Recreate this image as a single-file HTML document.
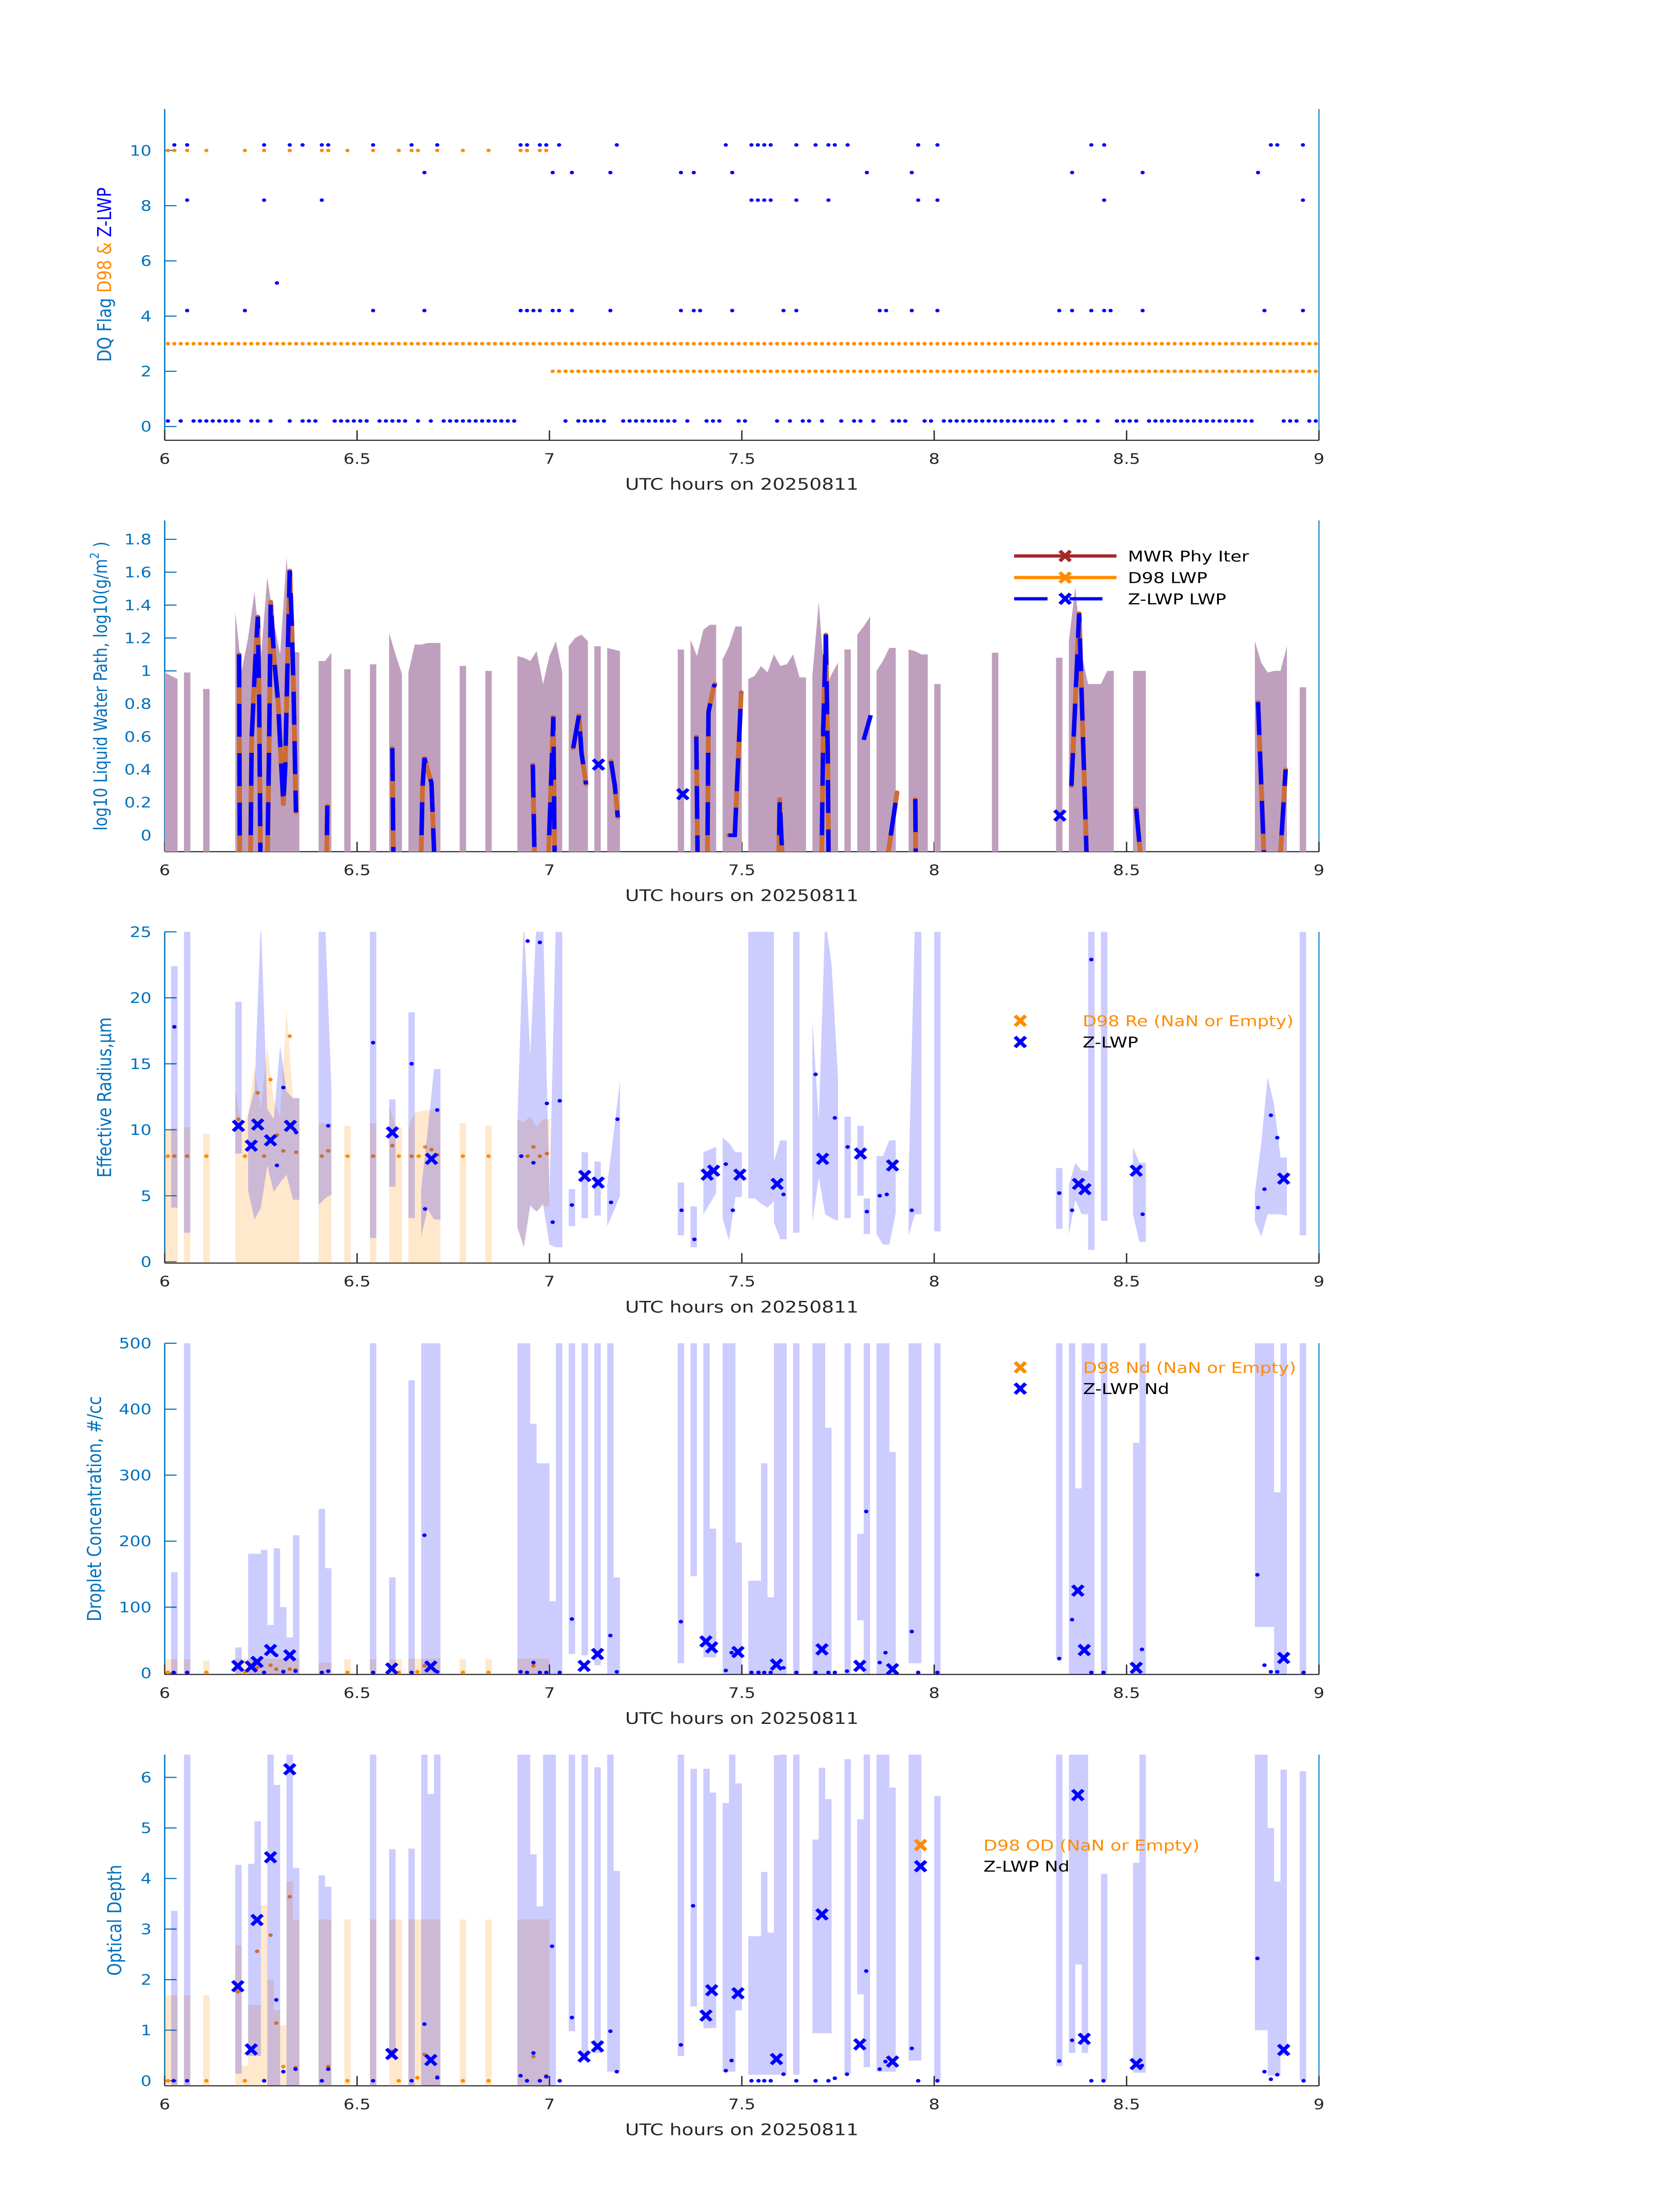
<!DOCTYPE html>
<html><head><meta charset="utf-8"><title>Cloud retrieval panels 20250811</title>
<style>html,body{margin:0;padding:0;background:#fff;width:100%;height:100%;overflow:hidden;}svg{display:block;position:absolute;left:0;top:0;width:100%;height:100%;}text{font-family:"DejaVu Sans","Liberation Sans",sans-serif;}</style>
</head><body>
<svg id="chart" xmlns="http://www.w3.org/2000/svg" viewBox="0 0 3825 6000" preserveAspectRatio="none">
<rect x="0" y="0" width="3825" height="6000" fill="#ffffff"/>
<defs>
<clipPath id="clip0"><rect x="375" y="298" width="2628" height="905"/></clipPath>
<clipPath id="clip1"><rect x="375" y="1422" width="2628" height="905"/></clipPath>
<clipPath id="clip2"><rect x="375" y="2546" width="2628" height="905"/></clipPath>
<clipPath id="clip3"><rect x="375" y="3670" width="2628" height="905"/></clipPath>
<clipPath id="clip4"><rect x="375" y="4794" width="2628" height="905"/></clipPath>
</defs>
</svg>
<script>
// ---------- x axis (minutes after 06:00 UTC) ----------
const xTickMinutes = [0, 30, 60, 90, 120, 150, 180];
const xTickLabels = ["6", "6.5", "7", "7.5", "8", "8.5", "9"];

// ---------- Panel 1: DQ flags (minute indices) ----------
const zlwpFlag0 = [0,2,4,5,6,7,8,9,10,11,13,14,16,19,21,22,23,26,27,28,29,30,31,33,34,35,36,37,39,41,43,44,45,46,47,48,49,50,51,52,53,54,62,64,65,66,67,68,71,72,73,74,75,76,77,78,79,81,84,85,86,89,90,95,97,99,100,102,105,107,108,110,113,114,115,118,119,121,122,123,124,125,126,127,128,129,130,131,132,133,134,135,136,137,138,140,142,143,145,148,149,150,151,153,154,155,156,157,158,159,160,161,162,163,164,165,166,167,168,169,174,175,176,178,179];
const zlwpFlag4 = [3,12,32,40,55,56,57,58,60,61,63,69,80,82,83,88,96,98,111,112,116,120,139,141,144,146,147,152,171,177];
const zlwpFlag5 = [17];
const zlwpFlag8 = [3,15,24,91,92,93,94,98,103,117,120,146,177];
const zlwpFlag9 = [40,60,63,69,80,82,88,109,116,141,152,170];
const zlwpFlag10 = [1,3,15,19,21,24,25,32,38,42,55,56,58,59,61,70,87,91,92,93,94,98,101,103,104,106,117,120,144,146,172,173,177];
const d98Flag10 = [0,1,3,6,12,15,19,24,25,28,32,36,38,39,42,46,50,55,56,58,59];
const d98Flag3Range = [0, 179];
const d98Flag2Range = [60, 179];

// ---------- Panel 2: LWP ----------
const lwpBandStart = [0,3,6,11,24,28,32,35,38,46,50,55,63,67,69,80,82,87,91,101,106,108,111,116,120,129,139,141,151,170,177];
const lwpBandHi = [[0.99,0.97,0.95],[0.99,0.99],[0.89,0.89],[1.36,1.0,1.2,1.48,1.08,1.57,1.3,1.1,1.69,1.12,1.11],[1.06,1.06,1.11],[1.01,1.01],[1.04,1.04],[1.23,1.1,0.98],[0.99,1.16,1.16,1.17,1.17,1.17],[1.03,1.03],[1.0,1.0],[1.09,1.08,1.06,1.12,0.92,1.09,1.18,0.99],[1.15,1.2,1.22,1.18],[1.15,1.15],[1.14,1.13,1.12],[1.13,1.13],[1.19,1.09,1.25,1.28,1.28],[1.07,1.15,1.27,1.27],[0.95,0.97,1.03,0.99,1.1,1.03,1.04,1.1,0.96,0.96],[0.97,1.42,0.89,0.98,1.05],[1.13,1.13],[1.22,1.27,1.33],[1.0,1.06,1.14,1.14],[1.13,1.12,1.1,1.1],[0.92,0.92],[1.11,1.11],[1.08,1.08],[1.18,1.51,1.1,0.92,0.92,0.92,1.0,1.0],[1.0,1.0,1.0],[1.18,1.05,0.99,1.0,1.0,1.15],[0.9,0.9]];
const lwpBandLo = -0.3;
const lwpSegT = [[11.6,11.72],[13.34,13.56,14.1,14.52,14.74,14.96],[15.96,16.3,16.53,17.05,17.7,18.06,18.5,18.8,19.1,19.5,19.8,20.1,20.47],[25.2,25.36],[35.5,35.7],[39.9,40.2,40.5,41.2,41.6,42.2],[57.4,57.75],[59.7,60.6,60.85],[63.7,64.6,65.0,65.7],[69.6,70.2,70.65],[82.9,83.15],[84.6,84.8,85.6,85.8],[87.9,88.9,89.9],[95.7,95.9,96.5],[102.4,102.7,103.1,103.4,103.55],[109.0,110.1],[112.1,114.2],[117.05,117.15],[141.4,142.25,142.6,143.1,143.9],[151.5,152.6],[170.5,171.6],[173.7,174.8]];
const lwpSegV = [[1.1,-0.3],[-0.3,0.59,1.04,1.33,0.79,-0.3],[-0.3,0.6,1.42,1.08,0.8,0.51,0.19,0.42,0.96,1.61,1.3,0.87,0.14],[-0.3,0.18],[0.53,-0.3],[-0.3,0.29,0.47,0.37,0.32,-0.3],[0.43,-0.3],[-0.3,0.72,-0.3],[0.53,0.73,0.5,0.31],[0.45,0.3,0.11],[0.6,-0.3],[-0.3,0.75,0.9,0.92],[0.0,0.0,0.87],[-0.3,0.22,-0.3],[-0.3,0.65,1.22,0.5,-0.3],[0.58,0.73],[-0.3,0.26],[0.22,-0.3],[0.3,1.03,1.35,0.72,-0.3],[0.16,-0.3],[0.81,-0.3],[-0.3,0.4]];
const lwpSegHasD98 = [true,true,true,true,true,true,true,true,true,true,true,true,true,true,true,false,true,true,true,true,true,true];
const lwpXT = [67.65, 80.8, 139.6];
const lwpXV = [0.43, 0.25, 0.12];

// ---------- Panel 3: effective radius ----------
const reBlueStart = [1,3,11,13,24,32,35,38,40,55,63,65,67,69,80,82,84,87,91,95,98,101,106,108,109,111,116,120,139,141,144,146,151,170,177];
const reBlueLo = [[4.1,4.1],[2.2,2.2],[8.2,8.2],[5.4,3.2,4.1,7.3,5.3,6.0,6.6,4.7,4.7],[4.3,4.8,5.1],[1.8,1.8],[5.7,5.7],[3.3,3.3],[1.9,4.0,3.2,3.2],[2.6,1.1,4.2,3.8,4.4,1.3,1.1,1.1],[2.7,2.7],[3.3,3.3],[3.5,3.5],[2.7,3.8,5.0],[2.0,2.0],[1.1,1.1],[3.6,4.4,5.2],[3.3,1.6,4.9,4.9],[4.8,4.8,4.4,4.1,4.6],[3.0,1.7,1.7],[2.2,2.2],[3.0,6.4,3.6,3.3,3.1],[3.3,3.3],[5.0,5.0],[2.1,2.1],[2.1,1.3,1.3,3.7],[2.0,3.6,3.6],[2.3,2.3],[2.5,2.5],[2.0,4.7,3.6,3.6],[0.9,0.9],[3.1,3.1],[3.6,1.5,1.5],[3.1,1.9,3.6,3.6,3.6,3.5],[2.0,2.0]];
const reBlueHi = [[22.4,22.4],[26,26],[19.7,19.7],[11.1,13,26,11.6,10.8,16.4,12.9,12.4,12.4],[26,26,13],[26,26],[12.3,12.3],[18.9,18.9],[5.5,9.9,14.6,14.6],[10.6,26,15.6,26,26,4.9,26,26],[5.5,5.5],[8.3,8.3],[7.6,7.6],[5.8,9.7,13.7],[6.0,6.0],[4.2,4.2],[8.3,8.5,8.7],[9.4,9.0,8.3,8.3],[26,26,26,26,26],[7.6,9.2,9.2],[26,26],[18.3,10.7,26,22.5,13.9],[11.0,11.0],[10.3,10.3],[4.8,4.8],[8.0,8.0,9.2,9.2],[6.2,26,26],[26,26],[7.1,7.1],[5.8,7.5,6.9,6.9],[26,26],[26,26],[8.7,7.5,7.5],[5.2,9.0,14.0,11.9,7.9,7.9],[26,26]];
const reOrangeStart = [0,3,6,11,24,28,32,35,38,46,50,55];
const reOrangeLo = [[-1,-1,-1],[-1,-1],[-1,-1],[-1,-1,-1,-1,-1,-1,-1,-1,-1,-1,-1],[-1,-1,-1],[-1,-1],[-1,-1],[-1,-1,-1],[-1,-1,-1,-1,-1,-1],[-1,-1],[-1,-1],[2.6,1.1,4.4,3.8,4.2,4.2]];
const reOrangeHi = [[10.1,10.1,10.1],[10.2,10.2],[9.7,9.7],[13.1,10.1,11.2,14.8,11.6,16.3,12.2,11.0,19.1,12.4,12.4],[10.5,10.5,10.5],[10.3,10.3],[10.5,10.5],[11.8,10.2,10.2],[10.2,11.3,11.4,11.5,11.5,11.5],[10.5,10.5],[10.3,10.3],[10.8,10.6,11,10.2,10.8,10.8]];
const reXT = [11.5,13.5,14.5,16.5,19.6,35.5,41.6,65.5,67.6,84.6,85.6,89.7,95.5,102.6,108.5,113.5,142.5,143.5,151.5,174.5];
const reXV = [10.3,8.8,10.4,9.2,10.3,9.8,7.8,6.5,6.0,6.6,6.9,6.6,5.9,7.8,8.2,7.3,5.9,5.5,6.9,6.3];
const reDotT = [1.5,17.5,18.5,20.5,25.5,32.5,38.5,40.6,42.5,55.6,56.6,57.5,58.5,59.6,60.5,61.6,63.5,69.6,70.6,80.6,82.6,87.5,88.6,96.5,101.5,104.5,106.5,109.5,111.5,112.6,116.5,139.5,141.5,144.5,152.5,170.5,171.5,172.5,173.5];
const reDotV = [17.8,7.3,13.2,9.8,10.3,16.6,15.0,4.0,11.5,8.0,24.3,7.5,24.2,12.0,3.0,12.2,4.3,4.5,10.8,3.9,1.7,7.4,3.9,5.1,14.2,10.9,8.7,3.8,5.0,5.1,3.9,5.2,3.9,22.9,3.6,4.1,5.5,11.1,9.4];
const reD98T = [0.5,1.5,3.5,6.5,12.5,15.5,24.5,28.5,32.5,36.5,38.5,39.6,46.5,50.5,55.6,56.6,58.5,11.5,14.5,16.5,17.5,18.5,19.5,20.5,25.5,35.5,40.6,41.6,42.5,57.5,59.6];
const reD98V = [8,8,8,8,8,8,8,8,8,8,8,8,8,8,8,8,8,10.8,12.8,13.8,9.6,8.4,17.1,8.3,8.4,8.8,8.7,8.5,8.1,8.7,8.2];

// ---------- Panel 4: droplet concentration (rect bands: start, end, lo, hi) ----------
const ndBlueStart = [1,3,11,13,15,16,17,18,19,20,24,25,32,35,38,40,55,57,58,60,61,63,65,67,69,70,80,82,84,85,87,89,91,93,94,95,98,101,103,106,108,109,111,113,116,120,139,141,142,143,146,151,152,170,173,174,177];
const ndBlueEnd = [2,4,12,15,16,17,18,19,20,21,25,26,33,36,39,43,57,58,60,61,62,64,66,68,70,71,81,83,85,86,89,90,93,94,95,97,99,103,104,107,109,110,113,114,118,121,140,142,143,145,147,152,153,173,174,175,178];
const ndBlueLo = [-5,-5,-5,-5,-5,-5,-5,-5,-5,-5,-5,-5,-5,-5,-5,-5,-5,-5,-5,-5,-5,29,27,12,-5,-5,15,147,24,24,-5,-5,-5,-5,-5,-5,-5,-5,-5,-5,80,-5,-5,-5,15,-5,22,-5,-5,-5,-5,-5,-5,70,-5,-5,-5];
const ndBlueHi = [153,520,39,181,187,73,189,100,54,209,249,159,520,145,444,520,520,378,318,109,520,520,520,520,520,145,520,520,520,219,520,198,140,318,115,520,520,520,372,520,211,520,520,335,520,520,520,520,280,520,520,349,520,520,274,520,520];
const ndOrangeStart = [0,3,6,11,24,28,32,35,38,46,50,55];
const ndOrangeEnd = [2,4,7,21,26,29,33,37,43,47,51,60];
const ndOrangeHi = [21,21,19,22,16,21,21,21,22,21,21,22];
const ndXT = [11.4,13.5,14.4,16.5,19.5,35.4,41.5,65.4,67.5,84.4,85.3,89.4,95.4,102.5,108.4,113.5,142.4,143.4,151.5,174.5];
const ndXV = [11,10,17,35,27,7,10,11,29,48,39,32,13,36,11,6,125,35,8,23];
const ndDotT = [1.4,3.5,15.5,17.4,18.5,20.4,24.5,25.5,32.5,38.5,40.5,42.5,55.5,56.5,57.5,58.5,59.5,61.6,63.5,69.5,70.5,80.5,87.5,88.4,91.5,92.6,93.5,94.5,96.5,98.5,101.5,103.5,104.5,106.4,109.4,111.5,112.4,116.5,117.5,120.5,139.5,141.5,144.5,146.4,152.4,170.4,171.5,172.5,173.5,177.6];
const ndDotV = [1,1,1,27,2,3,1,3,1,1,209,2,2,1,16,1,1,1,82,57,2,78,4,31,1,1,1,1,8,1,1,1,1,3,245,16,31,63,1,1,22,81,1,1,36,149,12,2,2,1];
const ndD98T = [0.5,6.5,12.5,14.4,16.5,17.4,18.5,19.5,20.4,25.5,28.5,35.4,36.5,39.4,40.5,42.5,46.5,50.5,57.5,59.5];
const ndD98V = [1,1,1,8,12,6,3,6,5,3,1,7,1,2,11,2,1,1,11,1];

// ---------- Panel 5: optical depth (rect bands) ----------
const odBlueStart = [1,3,11,13,14,16,17,19,20,24,25,32,35,38,40,41,42,55,57,58,59,63,65,67,69,70,80,82,84,85,87,88,89,91,93,94,95,96,98,101,102,103,106,108,109,111,113,116,120,139,141,142,143,146,151,152,170,172,173,174,177];
const odBlueEnd = [2,4,12,14,15,17,18,20,21,25,26,33,36,39,41,42,43,57,58,59,61,64,66,68,70,71,81,83,85,86,88,89,90,93,94,95,96,97,99,102,103,104,107,109,110,113,114,118,121,140,142,143,144,147,152,153,172,173,174,175,178];
const odBlueLo = [-0.2,-0.2,0.14,0.49,0.49,-0.2,-0.2,-0.2,-0.2,-0.2,-0.2,-0.2,0.44,-0.2,-0.2,-0.2,-0.2,-0.2,-0.2,-0.2,-0.2,0.98,0.4,0.55,0.18,0.18,0.49,1.47,1.04,1.04,0.18,0.18,1.39,0.12,0.12,0.12,0.12,0.12,0.12,0.94,0.94,0.94,0.14,1.71,0.27,0.18,0.18,0.4,0.01,0.29,0.55,2.3,0.55,0.01,0.16,0.16,1.0,0.1,0.1,0.5,0.01];
const odBlueHi = [3.36,6.6,4.27,4.29,5.13,6.6,5.85,6.6,4.21,4.06,3.84,6.6,4.58,4.59,6.6,5.67,6.6,6.6,4.48,3.45,6.6,6.6,6.6,6.2,6.6,4.15,6.6,6.17,6.17,5.7,5.49,6.6,5.88,2.86,4.13,2.93,6.44,6.6,6.6,4.77,6.19,5.57,6.36,5.17,6.6,6.6,5.8,6.6,5.63,6.6,6.6,6.6,6.6,4.09,4.31,6.6,6.6,5.0,3.94,6.15,6.12];
const odOrangeStart = [0,3,6,11,12,13,15,16,17,18,19,20,24,28,32,35,38,46,50,55];
const odOrangeEnd = [2,4,7,12,13,15,16,17,18,19,20,21,26,29,33,37,43,47,51,60];
const odOrangeHi = [1.69,1.69,1.69,2.68,0.3,1.5,3.47,2.0,1.4,1.1,3.94,3.19,3.19,3.19,3.19,3.19,3.19,3.19,3.19,3.19];
const odXT = [11.4,13.5,14.4,16.5,19.5,35.4,41.5,65.4,67.5,84.4,85.3,89.4,95.4,102.5,108.4,113.5,142.4,143.4,151.5,174.5];
const odXV = [1.87,0.62,3.18,4.42,6.16,0.53,0.41,0.48,0.68,1.29,1.79,1.73,0.43,3.29,0.72,0.38,5.65,0.83,0.33,0.61];
const odDotT = [1.4,3.5,15.5,17.4,18.5,20.4,24.5,25.5,32.5,38.5,40.5,42.5,55.5,56.5,57.5,58.5,59.5,60.4,61.6,63.5,69.5,70.5,80.5,82.4,87.5,88.4,91.5,92.6,93.5,94.5,96.5,98.5,101.5,103.5,104.5,106.4,109.4,111.5,112.4,116.5,117.5,120.5,139.5,141.5,144.5,146.4,152.4,170.4,171.5,172.5,173.5,177.6];
const odDotV = [0,0,0,1.6,0.18,0.23,0,0.23,0,0,1.12,0.06,0.1,0,0.55,0,0.08,2.66,0,1.25,0.98,0.18,0.71,3.46,0.2,0.4,0,0,0,0,0.13,0,0,0,0.05,0.13,2.17,0.23,0.38,0.64,0,0,0.39,0.8,0,0,0.3,2.42,0.18,0.03,0.12,0];
const odD98T = [0.5,6.5,11.4,12.5,14.4,16.5,17.4,18.5,19.5,20.4,25.5,28.5,35.4,36.5,39.4,40.5,42.5,46.5,50.5,57.5,59.5];
const odD98V = [0,0,1.76,0,2.56,2.88,1.14,0.28,3.64,0.26,0.28,0,0.58,0,0.06,0.52,0.08,0,0,0.48,0.1];

// ---------- layout ----------
const NS = "http://www.w3.org/2000/svg";
const svg = document.getElementById('chart');
const X0 = 375, X1 = 3003;
const panels = [
  {top:298, bot:1203, ymin:-0.5, ymax:11.5, ticks:[0,2,4,6,8,10], labels:["0","2","4","6","8","10"]},
  {top:1422, bot:2327, ymin:-0.1, ymax:1.915, ticks:[0,0.2,0.4,0.6,0.8,1,1.2,1.4,1.6,1.8], labels:["0","0.2","0.4","0.6","0.8","1","1.2","1.4","1.6","1.8"]},
  {top:2546, bot:3451, ymin:-0.1, ymax:25, ticks:[0,5,10,15,20,25], labels:["0","5","10","15","20","25"]},
  {top:3670, bot:4575, ymin:-2, ymax:500, ticks:[0,100,200,300,400,500], labels:["0","100","200","300","400","500"]},
  {top:4794, bot:5699, ymin:-0.1, ymax:6.45, ticks:[0,1,2,3,4,5,6], labels:["0","1","2","3","4","5","6"]}
];
function xs(m){ return X0 + m/180*(X1-X0); }
function ys(p, v){ return p.top + (p.ymax - v)/(p.ymax - p.ymin)*(p.bot - p.top); }
function mk(tag, attrs, parent){ const e = document.createElementNS(NS, tag); for (const k in attrs) e.setAttribute(k, attrs[k]); (parent||svg).appendChild(e); return e; }

// ---------- axes ----------
const yLabelX = [241, 232, 241, 218, 264];
panels.forEach(function(p, i){
  const ax = mk('g', {});
  
  
  const ls = mk('line', {x1:X0, y1:p.top, x2:X0, y2:p.bot, stroke:'#0072BD', 'stroke-width':3}, ax);
  
  
  const rs = mk('line', {x1:X1, y1:p.top, x2:X1, y2:p.bot, stroke:'#2a8fd4', 'stroke-width':3}, ax);
  
  
  const bs = mk('line', {x1:X0, y1:p.bot, x2:X1, y2:p.bot, stroke:'#262626', 'stroke-width':3}, ax);
  
  
  p.ticks.forEach(function(t, j){
    const y = ys(p, t);
    const tk = mk('line', {x1:X0, y1:y, x2:X0+27, y2:y, stroke:'#0072BD', 'stroke-width':3}, ax);
    
    
    const tl = mk('text', {x:345, y:y+14, 'text-anchor':'end', 'font-size':39, fill:'#0072BD'}, ax);
    tl.textContent = p.labels[j];
    
    
  });
  xTickMinutes.forEach(function(m, j){
    const x = xs(m);
    const tk = mk('line', {x1:x, y1:p.bot, x2:x, y2:p.bot-27, stroke:'#262626', 'stroke-width':3}, ax);
    
    
    const tl = mk('text', {x:x, y:p.bot+64, 'text-anchor':'middle', 'font-size':39, fill:'#262626'}, ax);
    tl.textContent = xTickLabels[j];
    
    
  });
  const xl = mk('text', {x:(X0+X1)/2, y:p.bot+135, 'text-anchor':'middle', 'font-size':44, fill:'#262626'}, ax);
  xl.textContent = 'UTC hours on 20250811';
  
  
  const cy = (p.top + p.bot)/2;
  const yl = mk('text', {x:yLabelX[i], y:cy, 'text-anchor':'middle', 'font-size':44, fill:'#0072BD', transform:'rotate(-90 ' + yLabelX[i] + ' ' + cy + ')', 'dominant-baseline':'middle'}, ax);
  
  
  if (i === 0) {
    yl.innerHTML = '<tspan fill="#0072BD">DQ Flag  </tspan><tspan fill="#FF8C00">D98 &amp;  </tspan><tspan fill="#0000FF">Z-LWP</tspan>';
  } else if (i === 1) {
    yl.setAttribute('font-size', 42);
    yl.innerHTML = 'log10 Liquid Water Path, log10(g/m<tspan font-size="28" dy="-16">2</tspan><tspan dy="16"> )</tspan>';
  } else if (i === 2) {
    yl.textContent = 'Effective Radius,\u03bcm';
  } else if (i === 3) {
    yl.textContent = 'Droplet Concentration, #/cc';
  } else {
    yl.textContent = 'Optical Depth';
  }
});

// ---------- helpers for marks ----------
function drawX(g, x, y, color, name){
  const m = mk('path', {d:'M'+(x-12)+' '+(y-14)+'L'+(x+12)+' '+(y+14)+'M'+(x-12)+' '+(y+14)+'L'+(x+12)+' '+(y-14), stroke:color, 'stroke-width':9, fill:'none'}, g);
  
  
  return m;
}
function runPoly(p, start, lo, hi){
  let pts = [];
  for (let k = 0; k < hi.length; k++) pts.push(xs(start+k) + ',' + ys(p, hi[k]));
  for (let k = lo.length-1; k >= 0; k--) pts.push(xs(start+k) + ',' + ys(p, lo[k]));
  return pts.join(' ');
}
function rectPoly(p, s, e, lo, hi){
  return xs(s)+','+ys(p,hi)+' '+xs(e)+','+ys(p,hi)+' '+xs(e)+','+ys(p,lo)+' '+xs(s)+','+ys(p,lo);
}

// ---------- Panel 1 ----------
(function(){
  const p = panels[0];
  const g = mk('g', {'clip-path':'url(#clip0)'});
  
  
  function row(list, val, color, name){
    list.forEach(function(k){
      const c = mk('circle', {cx:xs(k+0.5), cy:ys(p, val), r:4.8, fill:color}, g);
      
      
    });
  }
  const d3 = []; for (let k = d98Flag3Range[0]; k <= d98Flag3Range[1]; k++) d3.push(k);
  const d2 = []; for (let k = d98Flag2Range[0]; k <= d98Flag2Range[1]; k++) d2.push(k);
  row(d3, 3, '#FF8C00', 'd98-flag-dot');
  row(d2, 2, '#FF8C00', 'd98-flag-dot');
  row(d98Flag10, 10, '#FF8C00', 'd98-flag-dot');
  row(zlwpFlag0, 0.2, '#0000FF', 'zlwp-flag-dot');
  row(zlwpFlag4, 4.2, '#0000FF', 'zlwp-flag-dot');
  row(zlwpFlag5, 5.2, '#0000FF', 'zlwp-flag-dot');
  row(zlwpFlag8, 8.2, '#0000FF', 'zlwp-flag-dot');
  row(zlwpFlag9, 9.2, '#0000FF', 'zlwp-flag-dot');
  row(zlwpFlag10, 10.2, '#0000FF', 'zlwp-flag-dot');
})();

// ---------- Panel 2 ----------
(function(){
  const p = panels[1];
  const g = mk('g', {'clip-path':'url(#clip1)'});
  
  
  lwpBandStart.forEach(function(s, i){
    const lo = lwpBandHi[i].map(function(){ return lwpBandLo; });
    const pg = mk('polygon', {points:runPoly(p, s, lo, lwpBandHi[i]), fill:'#C09FBE'}, g);
    
    
  });
  lwpSegT.forEach(function(T, i){
    const pts = T.map(function(t, k){ return xs(t) + ',' + ys(p, lwpSegV[i][k]); }).join(' ');
    if (lwpSegHasD98[i]) {
      const o = mk('polyline', {points:pts, fill:'none', stroke:'#CD6D35', 'stroke-width':11, 'stroke-linejoin':'round', 'stroke-linecap':'round'}, g);
      
      
    }
    const b = mk('polyline', {points:pts, fill:'none', stroke:'#0000FF', 'stroke-width':10, 'stroke-dasharray':'90,45'}, g);
    
    
  });
  lwpXT.forEach(function(t, i){ drawX(g, xs(t), ys(p, lwpXV[i]), '#0000FF', 'zlwp-lwp-marker'); });
  const lg = mk('g', {});
  
  
  const names = ['MWR Phy Iter', 'D98 LWP', 'Z-LWP LWP'];
  const cols = ['#A52A2A', '#FF8C00', '#0000FF'];
  const rows = [1519, 1578, 1636];
  rows.forEach(function(y, i){
    let ln;
    if (i < 2) {
      ln = mk('line', {x1:2309, y1:y, x2:2542, y2:y, stroke:cols[i], 'stroke-width':9}, lg);
    } else {
      ln = mk('path', {d:'M2309 '+y+'L2385 '+y+'M2435 '+y+'L2510 '+y, stroke:cols[i], 'stroke-width':9, fill:'none'}, lg);
    }
    
    
    drawX(lg, 2425, y, cols[i], 'legend-marker');
    const tx = mk('text', {x:2568, y:y+15, 'font-size':41, fill:'#000'}, lg);
    tx.textContent = names[i];
    
    
  });
})();

// ---------- shared drawing for panels 3-5 ----------
function drawDots(g, p, T, V, color, r, name){
  T.forEach(function(t, i){
    const c = mk('circle', {cx:xs(t), cy:ys(p, V[i]), r:r, fill:color}, g);
    
    
  });
}
function drawLegend(x0, tx, y1, label1, label2, name){
  const lg = mk('g', {});
  
  
  drawX(lg, x0, y1, '#FF8C00', 'legend-marker');
  drawX(lg, x0, y1+58, '#0000FF', 'legend-marker');
  const t1 = mk('text', {x:tx, y:y1+15, 'font-size':41, fill:'#FF8C00'}, lg);
  t1.textContent = label1;
  
  
  const t2 = mk('text', {x:tx, y:y1+73, 'font-size':41, fill:'#000'}, lg);
  t2.textContent = label2;
  
  
}

// ---------- Panel 3 ----------
(function(){
  const p = panels[2];
  const g = mk('g', {'clip-path':'url(#clip2)'});
  
  
  reOrangeStart.forEach(function(s, i){
    const pg = mk('polygon', {points:runPoly(p, s, reOrangeLo[i], reOrangeHi[i]), fill:'#FF8C00', 'fill-opacity':0.2}, g);
    
    
  });
  drawDots(g, p, reD98T, reD98V, '#FF8C00', 5, 'd98-re-dot');
  reBlueStart.forEach(function(s, i){
    const pg = mk('polygon', {points:runPoly(p, s, reBlueLo[i], reBlueHi[i]), fill:'#0000FF', 'fill-opacity':0.2}, g);
    
    
  });
  drawDots(g, p, reDotT, reDotV, '#0000FF', 5, 'zlwp-re-dot');
  reXT.forEach(function(t, i){ drawX(g, xs(t), ys(p, reXV[i]), '#0000FF', 'zlwp-re-marker'); });
  drawLegend(2323, 2465, 2789, 'D98 Re (NaN or Empty)', 'Z-LWP', 're-legend');
})();

// ---------- Panel 4 ----------
(function(){
  const p = panels[3];
  const g = mk('g', {'clip-path':'url(#clip3)'});
  
  
  ndOrangeStart.forEach(function(s, i){
    const pg = mk('polygon', {points:rectPoly(p, s, ndOrangeEnd[i], -5, ndOrangeHi[i]), fill:'#FF8C00', 'fill-opacity':0.2}, g);
    
    
  });
  drawDots(g, p, ndD98T, ndD98V, '#FF8C00', 5, 'd98-nd-dot');
  ndBlueStart.forEach(function(s, i){
    const pg = mk('polygon', {points:rectPoly(p, s, ndBlueEnd[i], ndBlueLo[i], ndBlueHi[i]), fill:'#0000FF', 'fill-opacity':0.2}, g);
    
    
  });
  drawDots(g, p, ndDotT, ndDotV, '#0000FF', 5, 'zlwp-nd-dot');
  ndXT.forEach(function(t, i){ drawX(g, xs(t), ys(p, ndXV[i]), '#0000FF', 'zlwp-nd-marker'); });
  drawLegend(2323, 2466, 3736, 'D98 Nd (NaN or Empty)', 'Z-LWP Nd', 'nd-legend');
})();

// ---------- Panel 5 ----------
(function(){
  const p = panels[4];
  const g = mk('g', {'clip-path':'url(#clip4)'});
  
  
  odOrangeStart.forEach(function(s, i){
    const pg = mk('polygon', {points:rectPoly(p, s, odOrangeEnd[i], -0.2, odOrangeHi[i]), fill:'#FF8C00', 'fill-opacity':0.2}, g);
    
    
  });
  drawDots(g, p, odD98T, odD98V, '#FF8C00', 5, 'd98-od-dot');
  odBlueStart.forEach(function(s, i){
    const pg = mk('polygon', {points:rectPoly(p, s, odBlueEnd[i], odBlueLo[i], odBlueHi[i]), fill:'#0000FF', 'fill-opacity':0.2}, g);
    
    
  });
  drawDots(g, p, odDotT, odDotV, '#0000FF', 5, 'zlwp-od-dot');
  odXT.forEach(function(t, i){ drawX(g, xs(t), ys(p, odXV[i]), '#0000FF', 'zlwp-od-marker'); });
  drawLegend(2096, 2239, 5041, 'D98 OD (NaN or Empty)', 'Z-LWP Nd', 'od-legend');
})();
</script>
</body></html>
